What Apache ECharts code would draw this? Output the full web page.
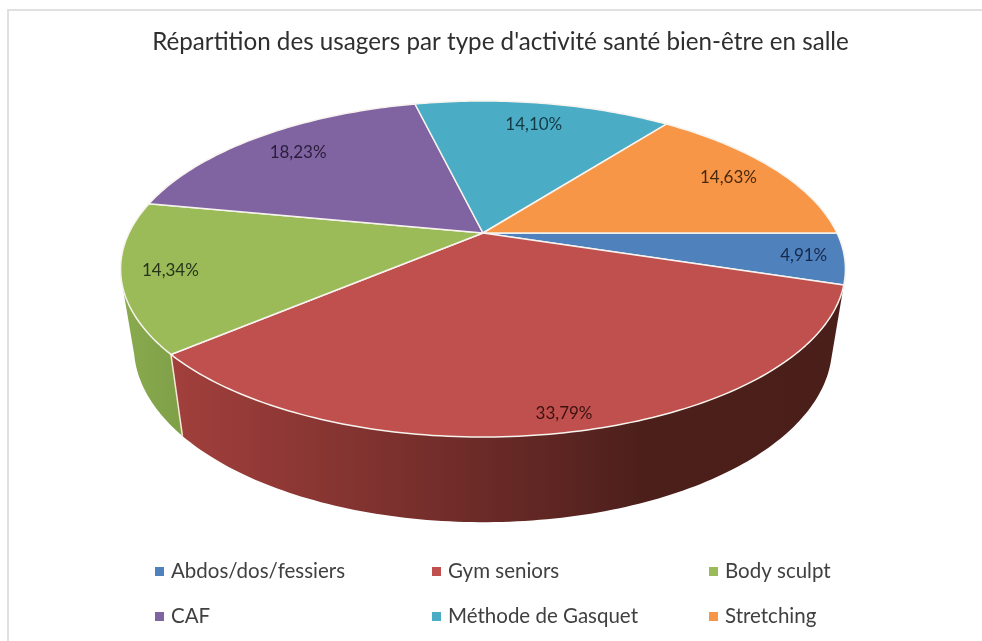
<!DOCTYPE html>
<html><head><meta charset="utf-8">
<script src="https://cdn.jsdelivr.net/npm/echarts@6/dist/echarts.min.js"></script>
<style>html,body{margin:0;padding:0;background:#fff}#c{width:982px;height:641px}</style>
</head><body><div id="c"></div>
<script>
const titleText = "Répartition des usagers par type d'activité santé bien-être en salle";
const categories = ["Abdos/dos/fessiers","Gym seniors","Body sculpt","CAF","Méthode de Gasquet","Stretching"];
const values = [4.91,33.79,14.34,18.23,14.10,14.63];
const colors = ["#4f81bd","#c0504d","#9bbb59","#8064a2","#4bacc6","#f79646"];
const labelColors = ["#16294a","#3d1110","#26351a","#2a1d3a","#143a45","#4a2a0c"];
const labelReach = [0.89,0.925,0.87,0.81,0.81,0.835];

const FONT = 'Lato';
const total = values.reduce((a,b)=>a+b,0);
const TILT = -0.2143;
const topRim = {cx:483, cy:233, a:354, c:160.3};
const lowRim = {cx:483, cy:309, a:341, c:167.5};
const WALL_FROM = 17, WALL_TO = 165;

function project(deg, f, r){
  const t = deg*Math.PI/180, X = f*Math.cos(t), Y = f*Math.sin(t), d = 1+TILT*Y;
  return [r.cx + r.a*X/d, r.cy + r.c*Y/d];
}
function arc(from, to, r){
  const n = Math.max(2, Math.ceil(Math.abs(to-from)));
  const out = [];
  for(let i=0;i<=n;i++) out.push(project(from+(to-from)*i/n, 1, r));
  return out;
}
function wallFill(i){
  if(i===1) return {type:'linear',x:180,y:0,x2:846,y2:0,global:true,colorStops:[
    {offset:0,color:'#a03f3c'},{offset:0.2,color:'#8a3633'},{offset:0.45,color:'#6c2b28'},
    {offset:0.7,color:'#4c1f1b'},{offset:1,color:'#4a1e19'}]};
  if(i===2) return {type:'linear',x:125,y:0,x2:185,y2:0,global:true,colorStops:[
    {offset:0,color:'#8aaa4e'},{offset:1,color:'#7f9f48'}]};
  return colors[i];
}
let cum = 0;
const starts = values.map(v=>{const s=cum; cum+=v; return s;});

const renderSlice = i => (params, api) => {
  const v = api.value(0);
  const from = starts[i]/total*360, to = from + v/total*360;
  const children = [];
  const wa = Math.max(from,WALL_FROM), wb = Math.min(to,WALL_TO);
  if(wb>wa){
    const pts = arc(wa,wb,topRim).concat(arc(wb,wa,lowRim));
    children.push({type:'polygon',z2:1,shape:{points:pts},style:{fill:wallFill(i)}});
    if(i===1) children.push({type:'line',z2:2,shape:(()=>{const p=project(wb,1,topRim),q=project(wb,1,lowRim);return {x1:p[0],y1:p[1],x2:q[0],y2:q[1]};})(),style:{stroke:'#f6e6d8',lineWidth:1.5}});
  }
  const top = [project(0,0,topRim)].concat(arc(from,to,topRim));
  children.push({type:'polygon',z2:5,shape:{points:top},style:{fill:colors[i],stroke:'#f7f3ee',lineWidth:1.5,lineJoin:'round'}});
  const mid = project((from+to)/2,labelReach[i],topRim);
  children.push({type:'text',z2:10,x:mid[0],y:mid[1],style:{
    text:v.toFixed(2).replace('.',',')+'%',fill:labelColors[i],
    font:'17px '+FONT,align:'center',verticalAlign:'middle'}});
  return {type:'group',children};
};

const legendBase = {orient:'vertical',icon:'rect',itemWidth:9,itemHeight:9,itemGap:24,selectedMode:false,
  padding:0,top:561,textStyle:{fontFamily:FONT,fontSize:20.5,color:'#404040',padding:[0,0,0,2]}};
const legendLeft = [155,432,709];

const chart = echarts.init(document.getElementById('c'),null,{renderer:'canvas'});
chart.setOption({
  animation:false,
  backgroundColor:'#fff',
  title:{text:titleText,left:495.5,top:25,textAlign:'center',
    textStyle:{fontFamily:FONT,fontSize:24.2,fontWeight:'normal',color:'#2f2f2f'}},
  legend:legendLeft.map((left,k)=>Object.assign({},legendBase,{left,data:[categories[k],categories[k+3]]})),
  graphic:[
    {type:'rect',shape:{x:7,y:9,width:975,height:2},style:{fill:'#e0e0e0'},silent:true},
    {type:'rect',shape:{x:7,y:9,width:2,height:632},style:{fill:'#e0e0e0'},silent:true}
  ],
  series:categories.map((name,i)=>({
    type:'custom',name,coordinateSystem:'none',silent:true,
    itemStyle:{color:colors[i]},
    renderItem:renderSlice(i),
    data:[[values[i]]]
  }))
});
</script></body></html>
